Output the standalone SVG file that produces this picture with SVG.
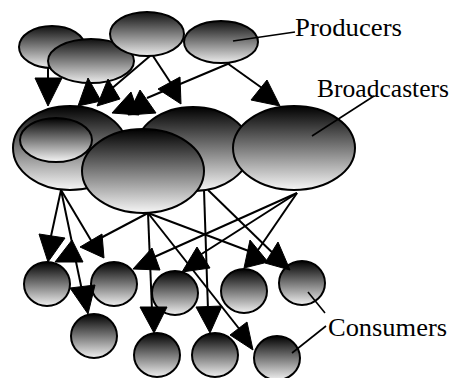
<svg xmlns="http://www.w3.org/2000/svg" width="453" height="378" viewBox="0 0 453 378">
<defs>
<linearGradient id="gp" x1="0" y1="0" x2="0" y2="1"><stop offset="0" stop-color="#111"/><stop offset="1" stop-color="#ececec"/></linearGradient>
<linearGradient id="gb" x1="0" y1="0" x2="0" y2="1"><stop offset="0" stop-color="#000"/><stop offset="1" stop-color="#f6f6f6"/></linearGradient>
<linearGradient id="gc" x1="0" y1="0" x2="0" y2="1"><stop offset="0" stop-color="#000"/><stop offset="1" stop-color="#f0f0f0"/></linearGradient>
</defs>
<style>
.p{fill:url(#gp);stroke:#000;stroke-width:2}
.b{fill:url(#gb);stroke:#000;stroke-width:2}
.c{fill:url(#gc);stroke:#000;stroke-width:2}
.ln{stroke:#000;stroke-width:2;fill:none}
.ah{fill:#000;stroke:#000;stroke-width:1}
.ld{stroke:#000;stroke-width:1.6;fill:none}
.t{font-family:"Liberation Serif","Times New Roman",serif;font-size:25px;fill:#000}
</style>
<rect width="453" height="378" fill="#fff"/>
<g id="producer1"><ellipse class="p" cx="52" cy="47" rx="33" ry="21"/></g>
<g id="producer2"><ellipse class="p" cx="91" cy="61" rx="43" ry="22"/></g>
<g id="producer3"><ellipse class="p" cx="147" cy="34" rx="37" ry="22"/></g>
<g id="producer4"><ellipse class="p" cx="221" cy="42" rx="37" ry="21"/></g>
<g id="broadcaster1"><ellipse class="b" cx="70" cy="148" rx="57" ry="42"/><ellipse class="b" cx="56" cy="140" rx="36" ry="22"/></g>
<g id="broadcaster2"><ellipse class="b" cx="193" cy="149" rx="57" ry="42"/></g>
<g id="broadcaster4"><ellipse class="b" cx="294" cy="148" rx="61" ry="42"/></g>
<g id="broadcaster3"><ellipse class="b" cx="143" cy="171" rx="61" ry="42"/></g>
<g id="consumer1"><ellipse class="c" cx="47" cy="284" rx="23" ry="22"/></g>
<g id="consumer2"><ellipse class="c" cx="114" cy="284" rx="23" ry="22"/></g>
<g id="consumer3"><ellipse class="c" cx="94" cy="336" rx="23" ry="22"/></g>
<g id="consumer4"><ellipse class="c" cx="175" cy="293" rx="23" ry="22"/></g>
<g id="consumer5"><ellipse class="c" cx="157" cy="355" rx="23" ry="22"/></g>
<g id="consumer6"><ellipse class="c" cx="215" cy="355" rx="23" ry="22"/></g>
<g id="consumer7"><ellipse class="c" cx="277" cy="358" rx="23" ry="22"/></g>
<g id="consumer8"><ellipse class="c" cx="244" cy="291" rx="23" ry="22"/></g>
<g id="consumer9"><ellipse class="c" cx="302" cy="283" rx="23" ry="22"/></g>
<g id="connectors">
<line class="ln" x1="48" y1="68" x2="48" y2="80"/>
<line class="ln" x1="150" y1="56" x2="110" y2="90"/>
<line class="ln" x1="153" y1="56" x2="180" y2="97"/>
<line class="ln" x1="230" y1="63" x2="147" y2="98"/>
<line class="ln" x1="227" y1="63" x2="262" y2="88"/>
<polygon class="ah" points="35,78 62,78 48,106"/>
<polygon class="ah" points="88,78 78,106 101,101"/>
<polygon class="ah" points="108,79 97,106 120,99"/>
<polygon class="ah" points="131,92 112,113 139,115"/>
<polygon class="ah" points="140,90 128,115 156,113"/>
<polygon class="ah" points="180,77 158,89 181,104"/>
<polygon class="ah" points="267,80 251,100 280,106"/>
<line class="ln" x1="61" y1="190" x2="48" y2="250"/>
<line class="ln" x1="61" y1="190" x2="84" y2="300"/>
<line class="ln" x1="61" y1="190" x2="92" y2="242"/>
<line class="ln" x1="148" y1="213" x2="95" y2="241"/>
<line class="ln" x1="148" y1="213" x2="152" y2="310"/>
<line class="ln" x1="148" y1="213" x2="248" y2="340"/>
<line class="ln" x1="148" y1="213" x2="262" y2="256"/>
<line class="ln" x1="204" y1="190" x2="208" y2="310"/>
<line class="ln" x1="208" y1="190" x2="282" y2="262"/>
<line class="ln" x1="297" y1="193" x2="152" y2="258"/>
<line class="ln" x1="297" y1="193" x2="200" y2="255"/>
<line class="ln" x1="297" y1="193" x2="258" y2="250"/>
<polygon class="ah" points="39,234 65,238 48,262"/>
<polygon class="ah" points="72,240 55,262 83,262"/>
<polygon class="ah" points="70,288 95,285 88,314"/>
<polygon class="ah" points="102,234 80,247 104,258"/>
<polygon class="ah" points="133,269 152,248 160,270"/>
<polygon class="ah" points="182,272 197,247 210,268"/>
<polygon class="ah" points="140,307 167,307 154,333"/>
<polygon class="ah" points="196,307 222,306 210,333"/>
<polygon class="ah" points="230,335 247,322 253,350"/>
<polygon class="ah" points="250,240 244,268 268,262"/>
<polygon class="ah" points="278,242 265,263 290,270"/>
</g>
<g id="labels">
<line class="ld" x1="233" y1="41" x2="295" y2="32"/>
<line class="ld" x1="312" y1="136" x2="374" y2="96"/>
<line class="ld" x1="308" y1="292" x2="325" y2="313"/>
<line class="ld" x1="292" y1="353" x2="326" y2="326"/>
<text class="t" x="295" y="36" textLength="107" lengthAdjust="spacingAndGlyphs">Producers</text>
<text class="t" x="317" y="97" textLength="132" lengthAdjust="spacingAndGlyphs">Broadcasters</text>
<text class="t" x="328" y="336" textLength="119" lengthAdjust="spacingAndGlyphs">Consumers</text>
</g>
</svg>
